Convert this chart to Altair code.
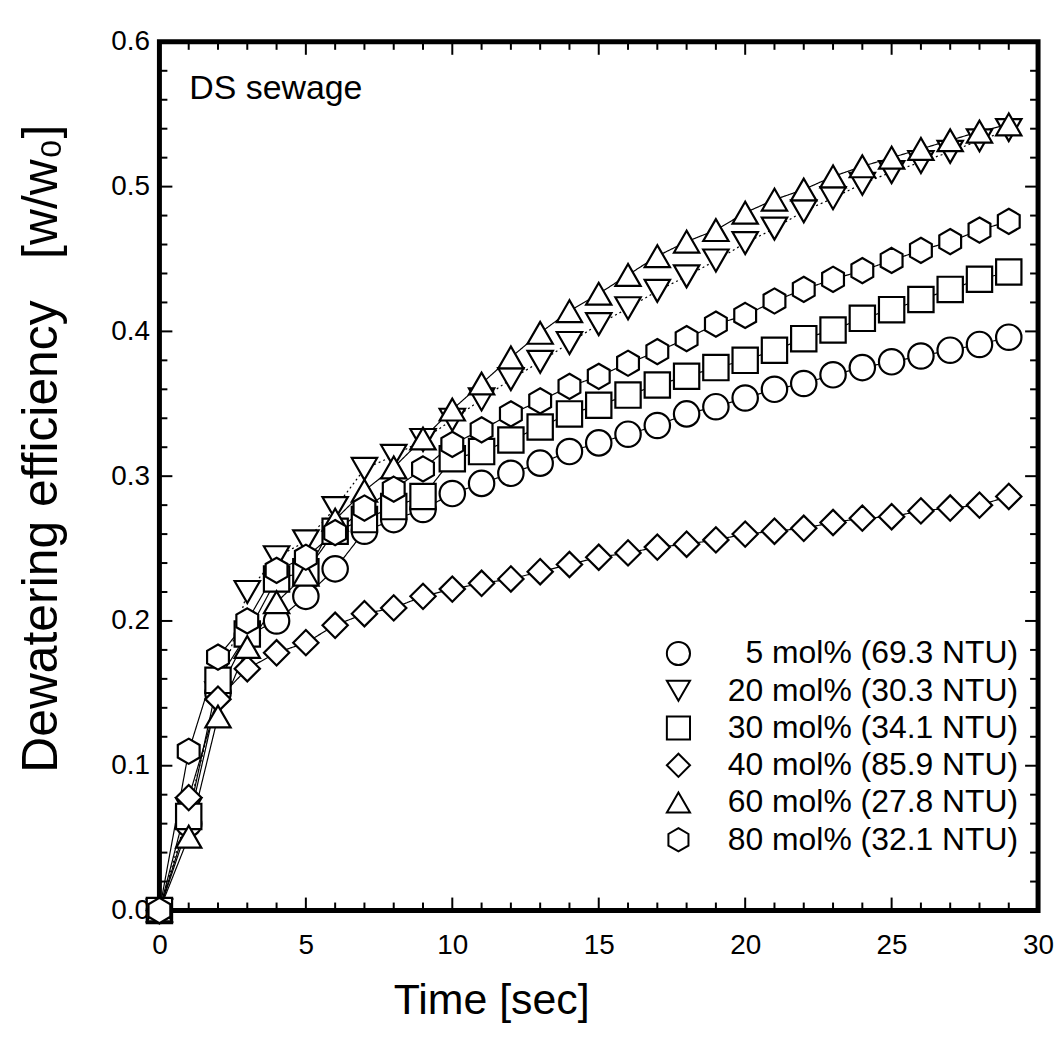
import altair as alt
import pandas as pd

# ---------------- data ----------------
time_s = list(range(30))

series_names = [
    "5 mol% (69.3 NTU)",
    "20 mol% (30.3 NTU)",
    "30 mol% (34.1 NTU)",
    "40 mol% (85.9 NTU)",
    "60 mol% (27.8 NTU)",
    "80 mol% (32.1 NTU)",
]

eff_5 = [0.0, 0.060, 0.150, 0.190, 0.200, 0.217, 0.236, 0.262, 0.270, 0.277,
         0.288, 0.295, 0.302, 0.309, 0.317, 0.323, 0.329, 0.335, 0.343, 0.348,
         0.354, 0.360, 0.364, 0.370, 0.375, 0.379, 0.383, 0.387, 0.391, 0.396]
eff_20 = [0.0, 0.070, 0.150, 0.220, 0.244, 0.255, 0.278, 0.305, 0.314, 0.325,
          0.339, 0.353, 0.367, 0.379, 0.392, 0.405, 0.416, 0.428, 0.438, 0.449,
          0.461, 0.471, 0.483, 0.492, 0.502, 0.510, 0.517, 0.524, 0.532, 0.539]
eff_30 = [0.0, 0.065, 0.159, 0.191, 0.229, 0.234, 0.262, 0.270, 0.279, 0.286,
          0.312, 0.317, 0.325, 0.334, 0.343, 0.349, 0.356, 0.363, 0.369, 0.375,
          0.380, 0.387, 0.395, 0.401, 0.409, 0.415, 0.422, 0.429, 0.436, 0.441]
eff_40 = [0.0, 0.078, 0.146, 0.167, 0.178, 0.185, 0.197, 0.205, 0.209, 0.217,
          0.222, 0.226, 0.229, 0.234, 0.239, 0.244, 0.247, 0.251, 0.253, 0.256,
          0.260, 0.262, 0.264, 0.268, 0.271, 0.272, 0.276, 0.278, 0.280, 0.286]
eff_60 = [0.0, 0.051, 0.134, 0.182, 0.213, 0.232, 0.270, 0.290, 0.306, 0.326,
          0.346, 0.364, 0.382, 0.399, 0.414, 0.426, 0.439, 0.452, 0.462, 0.470,
          0.482, 0.491, 0.498, 0.507, 0.514, 0.520, 0.526, 0.532, 0.538, 0.543]
eff_80 = [0.0, 0.110, 0.175, 0.200, 0.235, 0.244, 0.261, 0.278, 0.291, 0.305,
          0.322, 0.332, 0.343, 0.352, 0.362, 0.369, 0.378, 0.386, 0.395, 0.405,
          0.411, 0.421, 0.429, 0.436, 0.442, 0.449, 0.456, 0.462, 0.470, 0.476]

x_major = [0, 5, 10, 15, 20, 25, 30]
x_minor = [t for t in range(31) if t % 5 != 0]
y_major = [0.0, 0.1, 0.2, 0.3, 0.4, 0.5, 0.6]
y_minor = [round(0.02 * i, 2) for i in range(31) if i % 5 != 0]

hexagon = "M0,-1L0.866,-0.5L0.866,0.5L0,1L-0.866,0.5L-0.866,-0.5Z"
shapes = ["circle", "triangle-down", "square", "diamond", "triangle-up", hexagon]
size_keys = ["s5", "s20", "s30", "s40", "s60", "s80"]
sizes = [650, 640, 470, 780, 640, 640]
dash_keys = ["d5", "d20", "d30", "d40", "d60", "d80"]
dashes = [[1, 0], [2, 3], [1, 0], [1, 0], [1, 0], [1, 0]]

rows = []
for name, sk, dk, vals in zip(series_names, size_keys, dash_keys,
                              [eff_5, eff_20, eff_30, eff_40, eff_60, eff_80]):
    for t, v in zip(time_s, vals):
        rows.append({"series": name, "sz": sk, "dash": dk, "t": t, "v": v})
df = pd.DataFrame(rows)
legend_df = pd.DataFrame({"series": series_names})

W, H = 882, 872
FONT = "Liberation Sans"

xscale = alt.Scale(domain=[0, 30], nice=False, zero=False)
yscale = alt.Scale(domain=[0, 0.6], nice=False, zero=False)
shape_scale = alt.Scale(domain=series_names, range=shapes)

x_enc = alt.X("t:Q", scale=xscale,
              axis=alt.Axis(values=x_major, format="d", title="Time [sec]",
                            labelPadding=21, labelFlush=False, titleFontSize=43,
                            titleX=333, titleY=90, titleBaseline="middle",
                            titleAlign="center"))
y_enc = alt.Y("v:Q", scale=yscale,
              axis=alt.Axis(values=y_major, format=".1f",
                            title="Dewatering efficiency \u00a0\u00a0[w/w\u2080]",
                            labelPadding=10, labelFlush=False, titleFontSize=50,
                            titleX=-118, titleY=408, titleBaseline="middle",
                            titleAlign="center", titleAngle=270))

lines = alt.Chart(df).mark_line(color="black", strokeWidth=1.2).encode(
    x=x_enc, y=y_enc,
    detail="series:N",
    strokeDash=alt.StrokeDash("dash:N",
                              scale=alt.Scale(domain=dash_keys, range=dashes),
                              legend=None),
)

points = alt.Chart(df).mark_point(filled=True, fill="white", stroke="black",
                                  strokeWidth=2.2, opacity=1).encode(
    x=x_enc, y=y_enc,
    shape=alt.Shape("series:N", scale=shape_scale, legend=None),
    size=alt.Size("sz:N",
                  scale=alt.Scale(domain=size_keys, range=sizes),
                  legend=None),
)

xt_major = pd.DataFrame({"t": x_major})
xt_minor = pd.DataFrame({"t": x_minor})
yt_major = pd.DataFrame({"v": y_major})
yt_minor = pd.DataFrame({"v": y_minor})

MAJ, MIN = 13, 8
rule = dict(color="black", strokeWidth=2)

ticks = [
    alt.Chart(xt_major).mark_rule(**rule).encode(x="t:Q", y=alt.value(H), y2=alt.value(H - MAJ)),
    alt.Chart(xt_minor).mark_rule(**rule).encode(x="t:Q", y=alt.value(H), y2=alt.value(H - MIN)),
    alt.Chart(xt_major).mark_rule(**rule).encode(x="t:Q", y=alt.value(0), y2=alt.value(MAJ)),
    alt.Chart(xt_minor).mark_rule(**rule).encode(x="t:Q", y=alt.value(0), y2=alt.value(MIN)),
    alt.Chart(yt_major).mark_rule(**rule).encode(y="v:Q", x=alt.value(0), x2=alt.value(MAJ)),
    alt.Chart(yt_minor).mark_rule(**rule).encode(y="v:Q", x=alt.value(0), x2=alt.value(MIN)),
    alt.Chart(yt_major).mark_rule(**rule).encode(y="v:Q", x=alt.value(W), x2=alt.value(W - MAJ)),
    alt.Chart(yt_minor).mark_rule(**rule).encode(y="v:Q", x=alt.value(W), x2=alt.value(W - MIN)),
]

label_df = pd.DataFrame({"txt": ["DS sewage"]})
label = alt.Chart(label_df).mark_text(align="left", baseline="alphabetic",
                                      font=FONT, fontSize=34, color="black").encode(
    text="txt:N", x=alt.value(30), y=alt.value(57))

main = alt.layer(lines, *ticks, points, label)

# in-plot legend (symbol column + right-aligned labels)
leg_y = alt.Y("series:N", sort=series_names,
              scale=alt.Scale(type="point", domain=series_names,
                              range=[614, 801], padding=0),
              axis=None)
leg_sym = alt.Chart(legend_df).mark_point(filled=True, fill="white", stroke="black",
                                          strokeWidth=2, size=540, opacity=1).encode(
    x=alt.value(521), y=leg_y,
    shape=alt.Shape("series:N", scale=shape_scale, legend=None),
)
leg_txt = alt.Chart(legend_df).mark_text(align="right", baseline="middle",
                                         font=FONT, fontSize=32, color="black").encode(
    x=alt.value(862), y=leg_y, text="series:N",
)
legend_layer = alt.layer(leg_sym, leg_txt)

chart = alt.layer(main, legend_layer).resolve_scale(y="independent").properties(
    width=W, height=H,
    autosize=alt.AutoSizeParams(type="none"),
    padding={"left": 152, "top": 32, "right": 16, "bottom": 124},
).configure_view(
    stroke="black", strokeWidth=5
).configure_axis(
    grid=False, ticks=False, tickSize=0, domain=False,
    labelFont=FONT, labelFontSize=28, labelColor="black",
    titleFont=FONT, titleColor="black", titleFontWeight="normal",
)

chart.save("out.html", embed_options={"renderer": "svg", "actions": False})
